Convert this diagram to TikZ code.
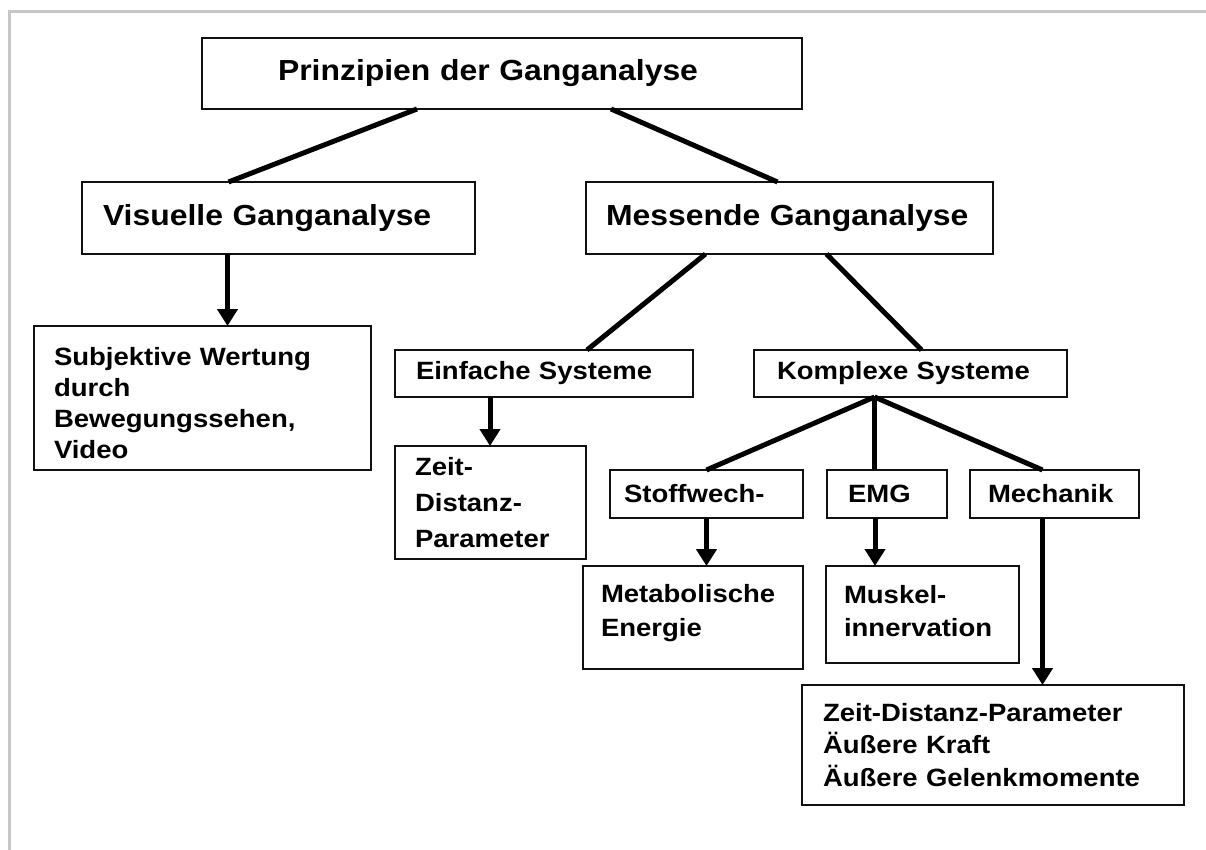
\documentclass[tikz,border=0pt]{standalone}
\usepackage{fontspec}
\setmainfont[FakeStretch=1.1]{Liberation Sans}
\usepackage{tikz}
\usetikzlibrary{arrows.meta}
\definecolor{FrameGray}{HTML}{C6C6C6}
\definecolor{BoxLine}{HTML}{111111}
\hyphenpenalty=10000
\exhyphenpenalty=10000
\tikzset{
  gang box/.style={
    draw=BoxLine, line width=2pt, rectangle, anchor=north west,
    align=left, inner ysep=0pt, outer sep=0pt
  },
  gang big/.style={font=\fontsize{29}{35}\selectfont\bfseries},
  gang small/.style={font=\fontsize{25}{#1}\selectfont\bfseries},
  gang link/.style={line width=5pt},
  gang arr/.style={-{Triangle[width=20pt,length=17pt]}, line width=5pt}
}

\begin{document}
\begin{tikzpicture}[x=1pt, y=-1pt]
  \useasboundingbox (0,0) rectangle (1206,850);
  \draw[FrameGray, line width=3pt] (9,850) -- (9,12) -- (1206,12);

  \node[gang box, gang big, minimum width=600pt, minimum height=71pt,
    inner xsep=76pt, text width=448pt] (prinz) at (202,38)
    {Prinzipien der Ganganalyse};
  \node[gang box, gang big, minimum width=393pt, minimum height=72pt,
    inner xsep=21pt, text width=351pt] (visuell) at (82,182)
    {Visuelle Ganganalyse};
  \node[gang box, gang big, minimum width=407pt, minimum height=72pt,
    inner xsep=20pt, text width=367pt] (messend) at (586,182)
    {Messende Ganganalyse};

  \node[gang box, gang small=31pt, minimum width=337pt, minimum height=144pt,
    inner xsep=20pt, text width=297pt, text height=28pt] (subj) at (34,326)
    {Subjektive Wertung\\durch\\Bewegungssehen,\\Video};
  \node[gang box, gang small=30pt, minimum width=298pt, minimum height=47pt,
    inner xsep=21pt, text width=256pt] (einf) at (395,350)
    {Einfache Systeme};
  \node[gang box, gang small=30pt, minimum width=313pt, minimum height=47pt,
    inner xsep=23pt, text width=267pt] (kompl) at (754,350)
    {Komplexe Systeme};
  \node[gang box, gang small=36pt, minimum width=191pt, minimum height=113pt,
    inner xsep=20pt, text width=151pt] (zeitein) at (395,446)
    {Zeit-\\Distanz-\\Parameter};

  \node[gang box, gang small=30pt, minimum width=193pt, minimum height=48pt,
    inner xsep=14pt, text width=165pt] (stoff) at (610,470)
    {Stoffwech-};
  \node[gang box, gang small=30pt, minimum width=120pt, minimum height=48pt,
    inner xsep=21pt, text width=78pt] (emg) at (827,470)
    {EMG};
  \node[gang box, gang small=30pt, minimum width=169pt, minimum height=48pt,
    inner xsep=18pt, text width=133pt] (mech) at (970,470)
    {Mechanik};

  \node[gang box, gang small=34pt, minimum width=220pt, minimum height=103pt,
    inner xsep=18pt, text width=184pt, text depth=49pt] (metab) at (583,566)
    {Metabolische\\Energie};
  \node[gang box, gang small=33pt, minimum width=193pt, minimum height=97pt,
    inner xsep=18pt, text width=157pt, text depth=41pt] (muskel) at (826,566)
    {Muskel-\\innervation};
  \node[gang box, gang small=32.5pt, minimum width=382pt, minimum height=120pt,
    inner xsep=21pt, text width=340pt] (kraft) at (802,685)
    {Zeit-Distanz-Parameter\\Äußere Kraft\\Äußere Gelenkmomente};

  \draw[gang link] ([xshift=-85pt]prinz.south) -- ([xshift=-50pt]visuell.north);
  \draw[gang link] ([xshift=109pt]prinz.south) -- ([xshift=-12pt]messend.north);
  \draw[gang link] ([xshift=-84pt]messend.south) -- ([xshift=43pt]einf.north);
  \draw[gang link] ([xshift=37pt]messend.south) -- ([xshift=11pt]kompl.north);

  \coordinate (fan) at ([xshift=-36pt]kompl.south);
  \draw[gang link] (fan) -- (stoff.north);
  \draw[gang link] (fan) -- (fan |- emg.north);
  \draw[gang link] (fan) -- ([xshift=-12pt]mech.north);

  \coordinate (visfoot) at ([xshift=-51pt]visuell.south);
  \draw[gang arr] (visfoot) -- (visfoot |- subj.north);
  \coordinate (einffoot) at ([xshift=-54pt]einf.south);
  \draw[gang arr] (einffoot) -- (einffoot |- zeitein.north);
  \draw[gang arr] (stoff.south) -- (stoff.south |- metab.north);
  \coordinate (emgfoot) at ([xshift=-12pt]emg.south);
  \draw[gang arr] (emgfoot) -- (emgfoot |- muskel.north);
  \coordinate (mechfoot) at ([xshift=-12pt]mech.south);
  \draw[gang arr] (mechfoot) -- (mechfoot |- kraft.north);
\end{tikzpicture}
\end{document}
